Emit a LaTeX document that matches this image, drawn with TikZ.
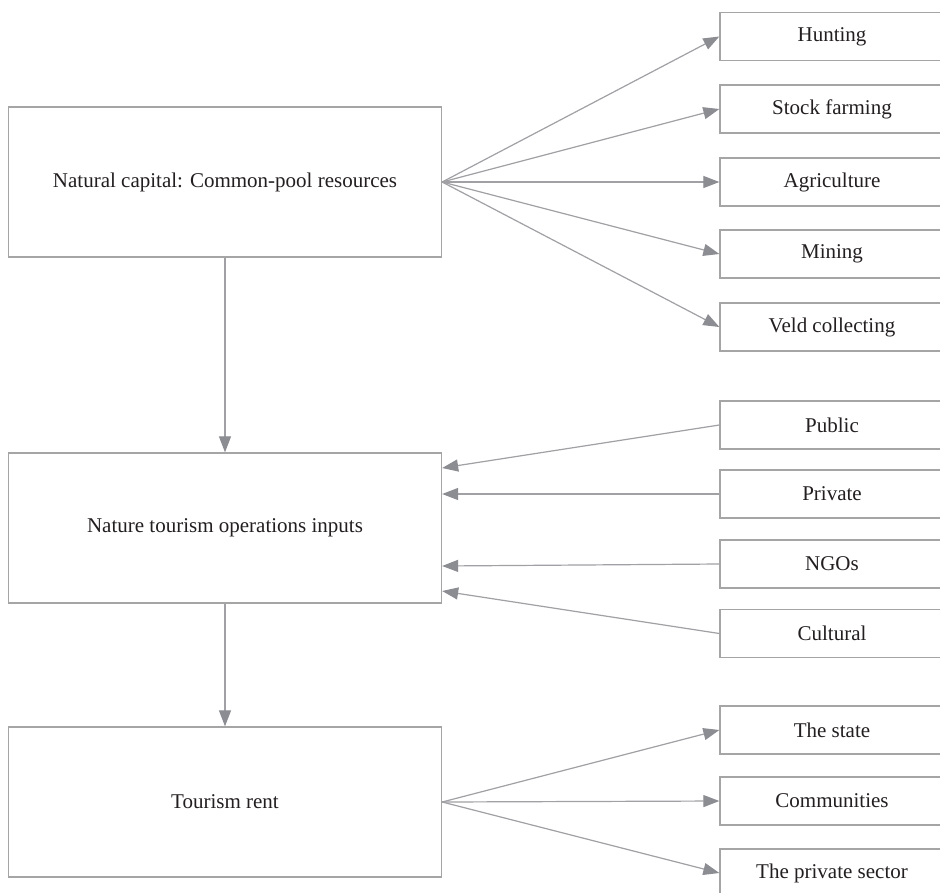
\documentclass[tikz,border=0pt]{standalone}
\usepackage{fontspec}
\setmainfont{Liberation Serif}
\usetikzlibrary{arrows.meta}
\definecolor{linegray}{RGB}{160,160,165}
\definecolor{tipgray}{RGB}{140,141,147}
\definecolor{boxgray}{RGB}{165,165,165}
\definecolor{txt}{RGB}{35,31,32}
\tikzset{
  bigbox/.style={draw=boxgray, line width=1.3pt, minimum width=433pt, minimum height=150pt, inner sep=0pt, text=txt, font=\fontsize{21}{25}\selectfont},
  smallbox/.style={draw=boxgray, line width=1.3pt, minimum width=224pt, minimum height=48pt, inner sep=0pt, text=txt, font=\fontsize{21}{25}\selectfont},
  conn/.style={draw=linegray, line width=1.2pt, -{Triangle[length=16pt, width=12pt, fill=tipgray, color=tipgray]}}
}
\begin{document}
\begin{tikzpicture}[x=1pt,y=-1pt]
\clip (0,0) rectangle (940,892);
\fill[white] (0,0) rectangle (940,892);
% left boxes
\node[bigbox] (b1) at (225,182) {Natural capital: Common-pool resources};
\node[bigbox] (b2) at (225,528) {Nature tourism operations inputs};
\node[bigbox] (b3) at (225,802) {Tourism rent};
% right boxes
\node[smallbox] (hun) at (832,36.5) {Hunting};
\node[smallbox] (sto) at (832,109) {Stock farming};
\node[smallbox] (agr) at (832,182) {Agriculture};
\node[smallbox] (min) at (832,254) {Mining};
\node[smallbox] (vel) at (832,327) {Veld collecting};
\node[smallbox] (pub) at (832,425) {Public};
\node[smallbox] (pri) at (832,494) {Private};
\node[smallbox] (ngo) at (832,564) {NGOs};
\node[smallbox] (cul) at (832,633.5) {Cultural};
\node[smallbox] (sta) at (832,730) {The state};
\node[smallbox] (com) at (832,801) {Communities};
\node[smallbox] (psr) at (832,873) {The private sector};
% vertical connectors
\draw[conn] (b1.south) -- (b2.north);
\draw[conn] (b2.south) -- (b3.north);
% fan from natural capital
\foreach \t in {hun,sto,agr,min,vel} \draw[conn] (b1.east) -- (\t.west);
% inputs
\draw[conn] (pub.west) -- ([yshift=60pt]b2.east);
\draw[conn] (pri.west) -- ([yshift=34pt]b2.east);
\draw[conn] (ngo.west) -- ([yshift=-38pt]b2.east);
\draw[conn] (cul.west) -- ([yshift=-63pt]b2.east);
% rent
\foreach \t in {sta,com,psr} \draw[conn] (b3.east) -- (\t.west);
\end{tikzpicture}
\end{document}
